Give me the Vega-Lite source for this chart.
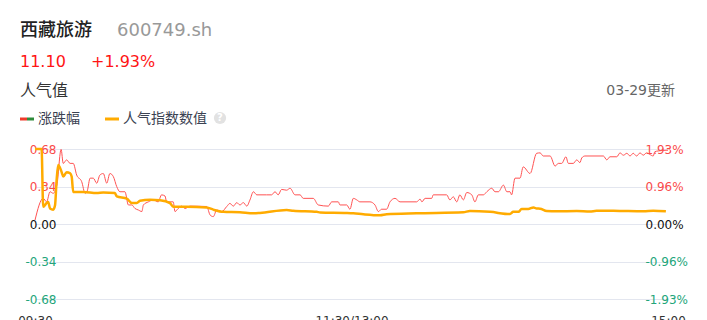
{
  "$schema": "https://vega.github.io/schema/vega-lite/v6.json",
  "width": 588,
  "height": 150,
  "autosize": "none",
  "padding": {"left": 57, "top": 149, "right": 62, "bottom": 21},
  "background": "white",
  "config": {"view": {"stroke": null}, "font": "DejaVu Sans, Noto Sans CJK SC"},
  "datasets": {
    "change": [
      {"minute":0,"pct":0.10},{"minute":3.1,"pct":0.66},{"minute":4.4,"pct":0.57},{"minute":5.7,"pct":0.83},{"minute":6.9,"pct":0.79},{"minute":8.3,"pct":1.0},{"minute":9.9,"pct":1.92},{"minute":10.7,"pct":1.56},{"minute":12.0,"pct":1.65},{"minute":13.3,"pct":1.56},{"minute":14.5,"pct":1.56},{"minute":15.8,"pct":1.26},{"minute":17.7,"pct":1.09},{"minute":19.0,"pct":0.79},{"minute":19.8,"pct":0.85},{"minute":20.9,"pct":1.18},{"minute":22.1,"pct":1.18},{"minute":23.4,"pct":1.05},{"minute":24.6,"pct":1.26},{"minute":25.9,"pct":1.30},{"minute":27.2,"pct":1.05},{"minute":28.4,"pct":1.30},{"minute":29.7,"pct":1.22},{"minute":31.0,"pct":0.96},{"minute":32.2,"pct":0.83},{"minute":34.1,"pct":0.83},{"minute":35.4,"pct":0.49},{"minute":36.7,"pct":0.49},{"minute":37.9,"pct":0.40},{"minute":39.2,"pct":0.36},{"minute":40.5,"pct":0.32},{"minute":41.1,"pct":0.49},{"minute":43.0,"pct":0.57},{"minute":44.9,"pct":0.62},{"minute":46.7,"pct":0.57},{"minute":48.0,"pct":0.75},{"minute":49.3,"pct":0.72},{"minute":49.9,"pct":0.57},{"minute":52.4,"pct":0.57},{"minute":53.1,"pct":0.32},{"minute":54.3,"pct":0.40},{"minute":55.6,"pct":0.46},{"minute":56.9,"pct":0.40},{"minute":58.8,"pct":0.46},{"minute":65.1,"pct":0.45},{"minute":66.4,"pct":0.23},{"minute":67.6,"pct":0.19},{"minute":68.9,"pct":0.36},{"minute":70.8,"pct":0.32},{"minute":72.7,"pct":0.45},{"minute":73.9,"pct":0.53},{"minute":75.2,"pct":0.46},{"minute":76.5,"pct":0.55},{"minute":77.7,"pct":0.49},{"minute":79.0,"pct":0.55},{"minute":80.3,"pct":0.46},{"minute":81.5,"pct":0.62},{"minute":82.8,"pct":0.83},{"minute":84.1,"pct":0.75},{"minute":87.8,"pct":0.75},{"minute":89.7,"pct":0.75},{"minute":91.0,"pct":0.83},{"minute":92.2,"pct":0.75},{"minute":93.5,"pct":0.89},{"minute":95.4,"pct":0.87},{"minute":96.7,"pct":0.92},{"minute":98.6,"pct":0.75},{"minute":100.5,"pct":0.75},{"minute":101.7,"pct":0.66},{"minute":105.5,"pct":0.66},{"minute":107.4,"pct":0.49},{"minute":111.2,"pct":0.46},{"minute":112.5,"pct":0.57},{"minute":115.0,"pct":0.57},{"minute":115.6,"pct":0.49},{"minute":118.2,"pct":0.49},{"minute":119.4,"pct":0.38},{"minute":120.7,"pct":0.66},{"minute":122.0,"pct":0.62},{"minute":123.2,"pct":0.57},{"minute":127.0,"pct":0.57},{"minute":128.9,"pct":0.49},{"minute":130.2,"pct":0.32},{"minute":131.4,"pct":0.38},{"minute":133.3,"pct":0.38},{"minute":134.6,"pct":0.57},{"minute":136.5,"pct":0.66},{"minute":138.4,"pct":0.57},{"minute":144.7,"pct":0.57},{"minute":146.0,"pct":0.64},{"minute":146.7,"pct":0.57},{"minute":147.9,"pct":0.66},{"minute":150.4,"pct":0.66},{"minute":151.0,"pct":0.75},{"minute":156.1,"pct":0.75},{"minute":157.3,"pct":0.62},{"minute":158.6,"pct":0.70},{"minute":159.9,"pct":0.57},{"minute":161.1,"pct":0.75},{"minute":162.4,"pct":0.62},{"minute":163.7,"pct":0.81},{"minute":165.6,"pct":0.75},{"minute":166.8,"pct":0.57},{"minute":168.1,"pct":0.75},{"minute":170.0,"pct":0.75},{"minute":171.3,"pct":0.83},{"minute":173.2,"pct":0.92},{"minute":174.4,"pct":0.83},{"minute":175.7,"pct":0.83},{"minute":177.6,"pct":1.00},{"minute":178.9,"pct":0.83},{"minute":180.1,"pct":0.83},{"minute":180.7,"pct":0.75},{"minute":182.0,"pct":1.18},{"minute":183.9,"pct":1.18},{"minute":185.1,"pct":1.47},{"minute":187.7,"pct":1.30},{"minute":190.2,"pct":1.82},{"minute":191.5,"pct":1.83},{"minute":192.7,"pct":1.75},{"minute":195.3,"pct":1.75},{"minute":197.2,"pct":1.49},{"minute":198.4,"pct":1.56},{"minute":199.7,"pct":1.56},{"minute":201.3,"pct":1.73},{"minute":202.2,"pct":1.56},{"minute":204.1,"pct":1.56},{"minute":205.4,"pct":1.65},{"minute":206.6,"pct":1.58},{"minute":207.3,"pct":1.70},{"minute":208.5,"pct":1.75},{"minute":215.5,"pct":1.75},{"minute":216.8,"pct":1.65},{"minute":218.0,"pct":1.73},{"minute":220.6,"pct":1.73},{"minute":221.8,"pct":1.83},{"minute":223.1,"pct":1.77},{"minute":224.4,"pct":1.82},{"minute":225.6,"pct":1.75},{"minute":226.8,"pct":1.82},{"minute":228.1,"pct":1.75},{"minute":229.4,"pct":1.83},{"minute":230.6,"pct":1.77},{"minute":231.9,"pct":1.83},{"minute":233.1,"pct":1.79},{"minute":234.4,"pct":1.75},{"minute":235.0,"pct":1.86},{"minute":236.3,"pct":1.88},{"minute":240,"pct":1.90}
    ],
    "heat": [
      {"minute":0,"val":0.68},{"minute":2.5,"val":0.68},{"minute":3.1,"val":0.157},{"minute":4.4,"val":0.19},{"minute":5.0,"val":0.20},{"minute":5.7,"val":0.14},{"minute":6.9,"val":0.13},{"minute":7.6,"val":0.17},{"minute":8.2,"val":0.40},{"minute":8.8,"val":0.535},{"minute":10.1,"val":0.47},{"minute":10.7,"val":0.43},{"minute":12.0,"val":0.47},{"minute":13.3,"val":0.46},{"minute":13.9,"val":0.43},{"minute":14.5,"val":0.29},{"minute":18.3,"val":0.29},{"minute":23.4,"val":0.28},{"minute":25.9,"val":0.285},{"minute":30.3,"val":0.28},{"minute":31.0,"val":0.25},{"minute":34.8,"val":0.23},{"minute":36.7,"val":0.19},{"minute":38.6,"val":0.19},{"minute":39.8,"val":0.21},{"minute":43.6,"val":0.22},{"minute":47.4,"val":0.215},{"minute":51.2,"val":0.19},{"minute":52.4,"val":0.157},{"minute":57.5,"val":0.157},{"minute":65.1,"val":0.15},{"minute":67.6,"val":0.13},{"minute":71.4,"val":0.11},{"minute":77.7,"val":0.106},{"minute":82.8,"val":0.097},{"minute":85.3,"val":0.10},{"minute":95.4,"val":0.127},{"minute":97.9,"val":0.12},{"minute":106.8,"val":0.11},{"minute":108.1,"val":0.105},{"minute":118.2,"val":0.10},{"minute":120.7,"val":0.097},{"minute":124.5,"val":0.088},{"minute":130.8,"val":0.079},{"minute":133.3,"val":0.088},{"minute":144.7,"val":0.097},{"minute":162.4,"val":0.106},{"minute":164.9,"val":0.118},{"minute":172.5,"val":0.11},{"minute":180.1,"val":0.09},{"minute":181.3,"val":0.11},{"minute":183.3,"val":0.11},{"minute":184.5,"val":0.136},{"minute":187.0,"val":0.136},{"minute":189.0,"val":0.15},{"minute":190.2,"val":0.14},{"minute":191.5,"val":0.139},{"minute":194.0,"val":0.118},{"minute":197.8,"val":0.115},{"minute":205.4,"val":0.118},{"minute":210.4,"val":0.113},{"minute":212.9,"val":0.12},{"minute":219.3,"val":0.12},{"minute":223.1,"val":0.118},{"minute":230.7,"val":0.115},{"minute":234.4,"val":0.12},{"minute":239.2,"val":0.115}
    ]
  },
  "layer": [
    {
      "data": {"name": "change"},
      "mark": {"type": "line", "color": "#ff5252", "strokeWidth": 1, "interpolate": "monotone"},
      "encoding": {
        "x": {"field": "minute", "type": "quantitative",
          "scale": {"domain": [0, 240], "range": [-22, 611], "nice": false, "zero": false},
          "axis": {"values": [0, 120, 240], "labelExpr": "datum.value == 0 ? '09:30' : datum.value == 120 ? '11:30/13:00' : '15:00'",
            "grid": false, "ticks": false, "domain": false, "labelFlush": false, "labelPadding": 16,
            "labelFontSize": 12, "labelColor": "#333", "labelFont": "DejaVu Sans", "title": null}},
        "y": {"field": "pct", "type": "quantitative",
          "scale": {"domain": [-1.93, 1.93], "nice": false, "zero": false},
          "axis": {"orient": "right", "values": [-1.93, -0.96, 0, 0.96, 1.93],
            "labelExpr": "(datum.value < 0 ? '-' : '') + format(abs(datum.value), '.2f') + '%'",
            "grid": false, "ticks": false, "domain": false, "labelPadding": 0, "labelFontSize": 12,
            "labelFont": "DejaVu Sans", "title": null,
            "labelColor": {"condition": [{"test": "datum.value > 0", "value": "#fa4a4a"}, {"test": "datum.value < 0", "value": "#22a57a"}], "value": "#111111"}}}
      }
    },
    {
      "data": {"name": "heat"},
      "mark": {"type": "line", "color": "#ffab00", "strokeWidth": 2.5, "interpolate": "monotone"},
      "encoding": {
        "x": {"field": "minute", "type": "quantitative",
          "scale": {"domain": [0, 240], "range": [-22, 611], "nice": false, "zero": false}},
        "y": {"field": "val", "type": "quantitative",
          "scale": {"domain": [-0.68, 0.68], "nice": false, "zero": false},
          "axis": {"orient": "left", "values": [-0.68, -0.34, 0, 0.34, 0.68],
            "labelExpr": "(datum.value < 0 ? '-' : '') + format(abs(datum.value), '.2f')",
            "grid": true, "gridColor": "#e3e6ef", "gridWidth": 1, "ticks": false, "domain": false,
            "labelPadding": 1, "labelFontSize": 12, "labelFont": "DejaVu Sans", "title": null,
            "labelColor": {"condition": [{"test": "datum.value > 0", "value": "#fa4a4a"}, {"test": "datum.value < 0", "value": "#22a57a"}], "value": "#111111"}}}
      }
    },
    {
      "data": {"values": [{"label": "西藏旅游"}]},
      "mark": {"type": "text", "align": "left", "baseline": "middle", "fontSize": 18, "fontWeight": 500, "color": "#222222", "font": "Noto Sans CJK SC"},
      "encoding": {"text": {"field": "label"}, "x": {"value": -37}, "y": {"value": -118}}
    },
    {
      "data": {"values": [{"label": "600749.sh"}]},
      "mark": {"type": "text", "align": "left", "baseline": "middle", "fontSize": 18, "color": "#999999", "font": "DejaVu Sans"},
      "encoding": {"text": {"field": "label"}, "x": {"value": 60}, "y": {"value": -118}}
    },
    {
      "data": {"values": [{"label": "11.10"}]},
      "mark": {"type": "text", "align": "left", "baseline": "middle", "fontSize": 16, "color": "#ff1414", "font": "DejaVu Sans"},
      "encoding": {"text": {"field": "label"}, "x": {"value": -37}, "y": {"value": -87}}
    },
    {
      "data": {"values": [{"label": "+1.93%"}]},
      "mark": {"type": "text", "align": "left", "baseline": "middle", "fontSize": 16, "color": "#ff1414", "font": "DejaVu Sans"},
      "encoding": {"text": {"field": "label"}, "x": {"value": 34}, "y": {"value": -87}}
    },
    {
      "data": {"values": [{"label": "人气值"}]},
      "mark": {"type": "text", "align": "left", "baseline": "middle", "fontSize": 16, "color": "#333333", "font": "Noto Sans CJK SC"},
      "encoding": {"text": {"field": "label"}, "x": {"value": -37}, "y": {"value": -58}}
    },
    {
      "data": {"values": [{"label": "03-29更新"}]},
      "mark": {"type": "text", "align": "right", "baseline": "middle", "fontSize": 14, "color": "#666666"},
      "encoding": {"text": {"field": "label"}, "x": {"value": 618}, "y": {"value": -58}}
    },
    {
      "data": {"values": [{"label": "涨跌幅"}]},
      "mark": {"type": "rule", "color": "#ee3b2b", "strokeWidth": 3},
      "encoding": {"x": {"value": -37}, "x2": {"value": -30}, "y": {"value": -30}}
    },
    {
      "data": {"values": [{"label": "涨跌幅"}]},
      "mark": {"type": "rule", "color": "#2e8b3a", "strokeWidth": 3},
      "encoding": {"x": {"value": -30}, "x2": {"value": -23}, "y": {"value": -30}}
    },
    {
      "data": {"values": [{"label": "人气指数数值"}]},
      "mark": {"type": "rule", "color": "#ffab00", "strokeWidth": 3},
      "encoding": {"x": {"value": 48}, "x2": {"value": 62}, "y": {"value": -30}}
    },
    {
      "data": {"values": [{"label": "涨跌幅"}]},
      "mark": {"type": "text", "align": "left", "baseline": "middle", "fontSize": 14, "color": "#3b4252", "font": "Noto Sans CJK SC"},
      "encoding": {"text": {"field": "label"}, "x": {"value": -19}, "y": {"value": -30}}
    },
    {
      "data": {"values": [{"label": "人气指数数值"}]},
      "mark": {"type": "text", "align": "left", "baseline": "middle", "fontSize": 14, "color": "#3b4252", "font": "Noto Sans CJK SC"},
      "encoding": {"text": {"field": "label"}, "x": {"value": 66}, "y": {"value": -30}}
    },
    {
      "data": {"values": [{"label": "?"}]},
      "mark": {"type": "point", "filled": true, "shape": "circle", "size": 150, "color": "#e2e2e2", "opacity": 1},
      "encoding": {"x": {"value": 163}, "y": {"value": -31}}
    },
    {
      "data": {"values": [{"label": "?"}]},
      "mark": {"type": "text", "align": "center", "baseline": "middle", "fontSize": 10, "fontWeight": "bold", "color": "#ffffff", "font": "DejaVu Sans"},
      "encoding": {"text": {"field": "label"}, "x": {"value": 163}, "y": {"value": -31}}
    }
  ],
  "resolve": {"scale": {"y": "independent"}}
}
